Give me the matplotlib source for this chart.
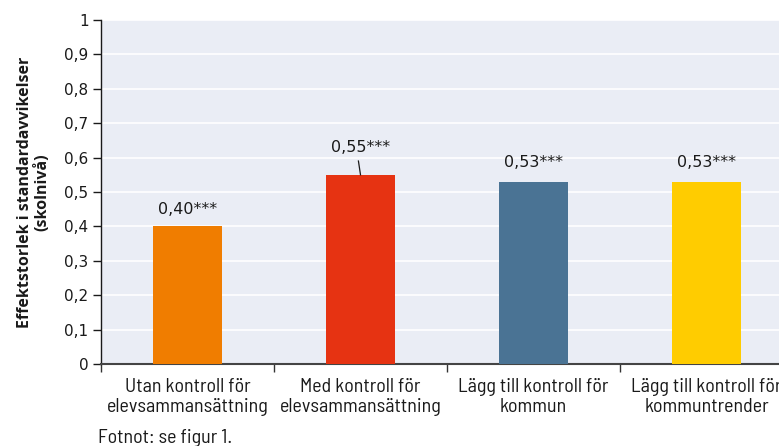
import matplotlib
matplotlib.use("Agg")
import matplotlib.pyplot as plt
import numpy as np

categories = ["Utan kontroll för\nelevsammansättning",
              "Med kontroll för\nelevsammansättning",
              "Lägg till kontroll för\nkommun",
              "Lägg till kontroll för\nkommuntrender"]
values = [0.40, 0.55, 0.53, 0.53]
labels = ["0,40***", "0,55***", "0,53***", "0,53***"]
colors = ["#F07D00", "#E63312", "#4A7394", "#FFCC00"]
yticks = [0, 0.1, 0.2, 0.3, 0.4, 0.5, 0.6, 0.7, 0.8, 0.9, 1.0]
ytick_labels = ["0", "0,1", "0,2", "0,3", "0,4", "0,5", "0,6", "0,7", "0,8", "0,9", "1"]
label_offsets = [0.05, 0.078, 0.057, 0.057]

narrow = ["Barlow Semi Condensed", "Barlow Condensed", "DejaVu Sans"]
plt.rcParams["font.family"] = ["DejaVu Sans"]

W, H = 779, 446
fig = plt.figure(figsize=(W / 100, H / 100), dpi=100)
ax = fig.add_axes([101 / W, 1 - 364 / H, 692 / W, 344 / H])
ax.set_facecolor("#EAEDF5")

x = np.arange(len(categories))
ax.bar(x, values, width=0.4, color=colors, zorder=3)
ax.set_xlim(-0.5, len(categories) - 0.5)
ax.set_ylim(0, 1)

for i, (v, lab, off) in enumerate(zip(values, labels, label_offsets)):
    ax.text(i, v + off, lab, ha="center", va="center", fontsize=11.5,
            color="#1a1a1a", zorder=4)
# leader line for the raised label
ax.plot([0.988, 1.0], [0.59, 0.55], color="#1a1a1a", lw=0.9, zorder=4)

ax.set_yticks(yticks)
ax.set_yticklabels(ytick_labels, fontsize=11, color="#1a1a1a")
ax.yaxis.grid(True, color="white", lw=1.2, zorder=0)
ax.set_axisbelow(True)

ax.set_xticks(x)
ax.set_xticklabels(categories, family=narrow, fontsize=14.4, color="#1a1a1a",
                   linespacing=1.15)
ax.set_xticks(np.arange(len(categories) + 1) - 0.5, minor=True)
ax.tick_params(axis="x", which="major", length=0, pad=10)
ax.tick_params(axis="x", which="minor", length=6, width=1, color="#333333", direction="out")
ax.tick_params(axis="y", length=6, width=1, color="#1a1a1a", direction="out", pad=3)

for s in ["top", "right"]:
    ax.spines[s].set_visible(False)
ax.spines["left"].set_color("#1a1a1a")
ax.spines["left"].set_linewidth(1.0)
ax.spines["bottom"].set_color("#444444")
ax.spines["bottom"].set_linewidth(1.5)

ax.set_ylabel("Effektstorlek i standardavvikelser\n(skolnivå)",
              family=["Open Sans", "DejaVu Sans"],
              fontsize=11.5, fontweight="bold", color="#1a1a1a", labelpad=10,
              linespacing=1.1)

fig.text(98 / W, 1 - 438 / H, "Fotnot: se figur 1.", family=narrow, fontsize=14.4,
         color="#1a1a1a", va="center", ha="left")

fig.savefig("out.png", dpi=100)
